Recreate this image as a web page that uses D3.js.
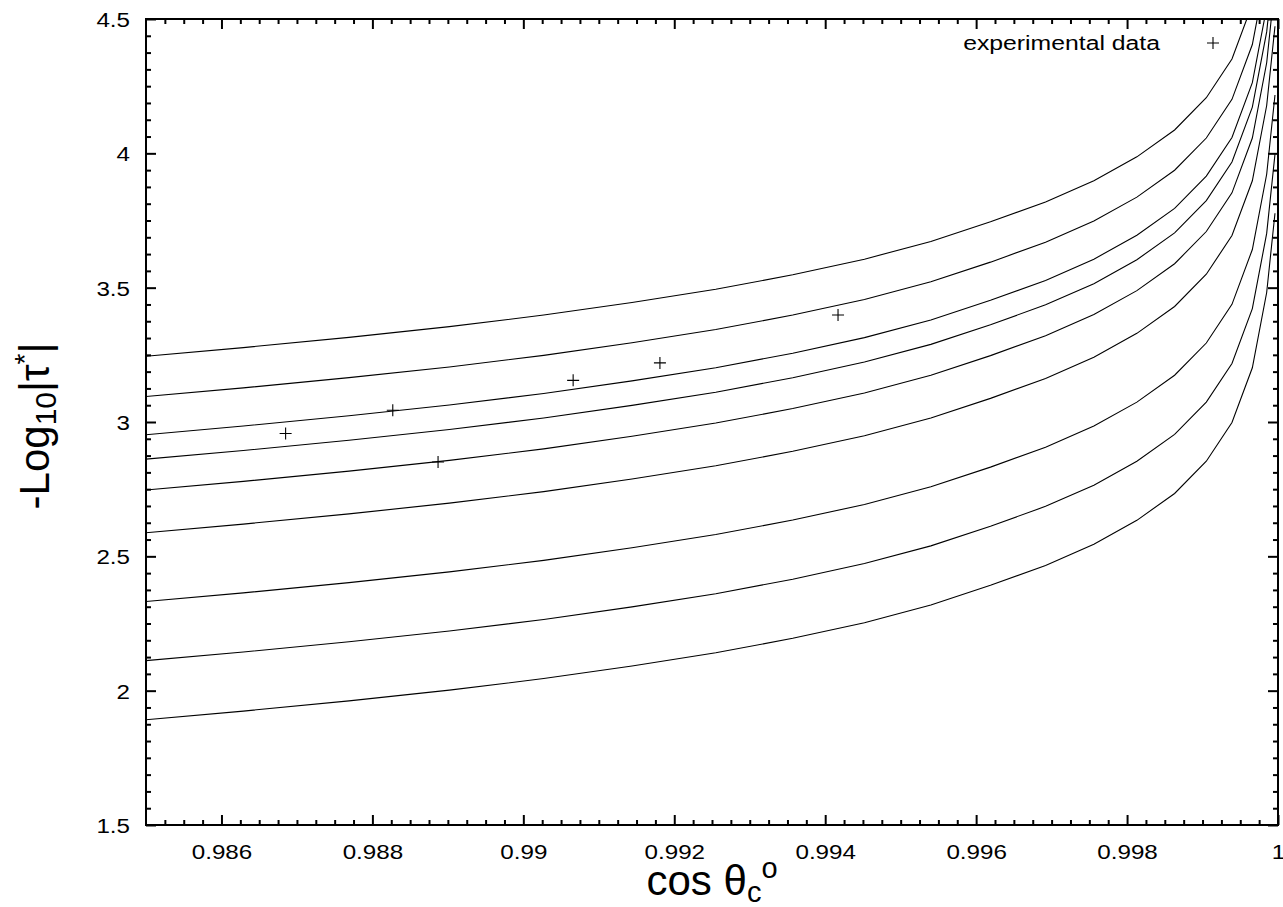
<!DOCTYPE html>
<html>
<head>
<meta charset="utf-8">
<script src="https://cdn.jsdelivr.net/npm/d3@7"></script>
<style>
  html, body { margin: 0; padding: 0; background: #fff; }
  svg { display: block; }
  text { font-family: "Liberation Sans", Arial, Helvetica, sans-serif; fill: #000; }
</style>
</head>
<body>
<svg id="chart" width="1283" height="907"></svg>
<script>
// ---- data ----
// sample positions of the model curves (cos θc), shared by all curves
const cosTheta = [0.98481, 0.98629, 0.98769, 0.98902, 0.99027, 0.99144, 0.99255, 0.99357, 0.99452, 0.99540,
                  0.99619, 0.99692, 0.99756, 0.99813, 0.99863, 0.99905, 0.99939, 0.99966, 0.99985, 0.99996];
const curve1 = [3.240, 3.277, 3.315, 3.355, 3.398, 3.445, 3.494, 3.548, 3.606, 3.672, 3.745, 3.819, 3.898, 3.987, 4.087, 4.207, 4.351, 4.555, 4.835, 5.130];
const curve2 = [3.090, 3.127, 3.165, 3.205, 3.248, 3.295, 3.344, 3.398, 3.456, 3.522, 3.595, 3.669, 3.748, 3.837, 3.937, 4.057, 4.201, 4.405, 4.685, 4.980];
const curve3 = [2.948, 2.985, 3.023, 3.063, 3.106, 3.153, 3.202, 3.256, 3.314, 3.380, 3.453, 3.527, 3.606, 3.695, 3.795, 3.915, 4.059, 4.263, 4.543, 4.838];
const curve4 = [2.857, 2.894, 2.932, 2.972, 3.015, 3.062, 3.111, 3.165, 3.223, 3.289, 3.362, 3.436, 3.515, 3.604, 3.704, 3.824, 3.968, 4.172, 4.452, 4.747];
const curve5 = [2.742, 2.779, 2.817, 2.857, 2.900, 2.947, 2.996, 3.050, 3.108, 3.174, 3.247, 3.321, 3.400, 3.489, 3.589, 3.709, 3.853, 4.057, 4.337, 4.632];
const curve6 = [2.583, 2.620, 2.658, 2.698, 2.741, 2.788, 2.837, 2.891, 2.949, 3.015, 3.088, 3.162, 3.241, 3.330, 3.430, 3.550, 3.694, 3.898, 4.178, 4.473];
const curve7 = [2.327, 2.364, 2.402, 2.442, 2.485, 2.532, 2.581, 2.635, 2.693, 2.759, 2.832, 2.906, 2.985, 3.074, 3.174, 3.294, 3.438, 3.642, 3.922, 4.217];
const curve8 = [2.107, 2.144, 2.182, 2.222, 2.265, 2.312, 2.361, 2.415, 2.473, 2.539, 2.612, 2.686, 2.765, 2.854, 2.954, 3.074, 3.218, 3.422, 3.702, 3.997];
const curve9 = [1.887, 1.924, 1.962, 2.002, 2.045, 2.092, 2.141, 2.195, 2.253, 2.319, 2.392, 2.466, 2.545, 2.634, 2.734, 2.854, 2.998, 3.202, 3.482, 3.777];
const curves = [curve1, curve2, curve3, curve4, curve5, curve6, curve7, curve8, curve9];

// experimental data
const expX = [0.98685, 0.98827, 0.98887, 0.99066, 0.99181, 0.99417];
const expY = [2.957, 3.044, 2.851, 3.155, 3.220, 3.398];
const legendLabel = "experimental data";

// axes
const xDomain = [0.985, 1.0];
const yDomain = [1.5, 4.5];
const xTicks = [0.986, 0.988, 0.99, 0.992, 0.994, 0.996, 0.998, 1.0];
const xTickLabels = ["0.986", "0.988", "0.99", "0.992", "0.994", "0.996", "0.998", "1"];
const yTicks = [1.5, 2, 2.5, 3, 3.5, 4, 4.5];
const yTickLabels = ["1.5", "2", "2.5", "3", "3.5", "4", "4.5"];
const xMinorStep = 0.00025;
const yMinorStep = 0.0625;

// ---- layout ----
const L = 146, R = 1278, T = 19, B = 825;
const svg = d3.select("#chart");
const x = d3.scaleLinear().domain(xDomain).range([L, R]);
const y = d3.scaleLinear().domain(yDomain).range([B, T]);
const SX = 1.18; // horizontal stretch of the reference tick lettering

svg.append("defs").append("clipPath").attr("id", "plotclip")
  .append("rect").attr("x", L).attr("y", T).attr("width", R - L).attr("height", B - T);

// minor tick values
const xMinor = d3.range(Math.round((xDomain[1] - xDomain[0]) / xMinorStep) + 1)
  .map(i => xDomain[0] + i * xMinorStep)
  .filter(v => !xTicks.some(t => Math.abs(t - v) < 1e-9) && v > xDomain[0] + 1e-9 && v < xDomain[1] - 1e-9);
const yMinor = d3.range(Math.round((yDomain[1] - yDomain[0]) / yMinorStep) + 1)
  .map(i => yDomain[0] + i * yMinorStep)
  .filter(v => !yTicks.some(t => Math.abs(t - v) < 1e-9) && v > yDomain[0] + 1e-9 && v < yDomain[1] - 1e-9);

function styleAxis(g) {
  g.select(".domain").remove();
  g.selectAll(".tick line").attr("stroke", "#000").attr("stroke-width", 2);
}

// bottom axis (major with labels)
const gB = svg.append("g").attr("transform", `translate(0,${B})`)
  .call(d3.axisBottom(x).tickValues(xTicks).tickSize(-10).tickFormat((d, i) => xTickLabels[i]));
styleAxis(gB);
gB.selectAll(".tick text").attr("y", 34).attr("dy", null)
  .attr("font-size", 20.5).attr("font-family", "Liberation Sans, Arial, sans-serif")
  .attr("fill", "#000").attr("transform", `scale(${SX},1)`);
svg.append("g").attr("transform", `translate(0,${B})`)
  .call(d3.axisBottom(x).tickValues(xMinor).tickSize(-5).tickFormat(""))
  .call(styleAxis);

// top axis (mirrored ticks)
svg.append("g").attr("transform", `translate(0,${T})`)
  .call(d3.axisTop(x).tickValues(xTicks).tickSize(-10).tickFormat(""))
  .call(styleAxis);
svg.append("g").attr("transform", `translate(0,${T})`)
  .call(d3.axisTop(x).tickValues(xMinor).tickSize(-5).tickFormat(""))
  .call(styleAxis);

// left axis
const gL = svg.append("g").attr("transform", `translate(${L},0)`)
  .call(d3.axisLeft(y).tickValues(yTicks).tickSize(-10).tickFormat((d, i) => yTickLabels[i]));
styleAxis(gL);
gL.selectAll(".tick text").attr("x", -16 / SX).attr("dy", "0.36em")
  .attr("font-size", 20.5).attr("font-family", "Liberation Sans, Arial, sans-serif")
  .attr("fill", "#000").attr("text-anchor", "end").attr("transform", `scale(${SX},1)`);
svg.append("g").attr("transform", `translate(${L},0)`)
  .call(d3.axisLeft(y).tickValues(yMinor).tickSize(-5).tickFormat(""))
  .call(styleAxis);

// right axis
svg.append("g").attr("transform", `translate(${R},0)`)
  .call(d3.axisRight(y).tickValues(yTicks).tickSize(-10).tickFormat(""))
  .call(styleAxis);
svg.append("g").attr("transform", `translate(${R},0)`)
  .call(d3.axisRight(y).tickValues(yMinor).tickSize(-5).tickFormat(""))
  .call(styleAxis);

// curves
const line = d3.line().x(d => x(d[0])).y(d => y(d[1]));
const plot = svg.append("g").attr("clip-path", "url(#plotclip)");
plot.selectAll("path.curve").data(curves).join("path")
  .attr("class", "curve")
  .attr("d", c => line(c.map((v, i) => [cosTheta[i], v])))
  .attr("fill", "none").attr("stroke", "#000").attr("stroke-width", 1.1);

// experimental points (plus markers)
const plusPath = "M-6,0H6M0,-6V6";
plot.selectAll("path.pt").data(expX.map((v, i) => [v, expY[i]])).join("path")
  .attr("class", "pt")
  .attr("transform", d => `translate(${x(d[0])},${y(d[1])})`)
  .attr("d", plusPath).attr("stroke", "#000").attr("stroke-width", 1.1).attr("fill", "none");

// legend
svg.append("text").attr("x", 1160 / SX).attr("y", 50).attr("text-anchor", "end")
  .attr("font-size", 21).attr("transform", `scale(${SX},1)`).text(legendLabel);
svg.append("path").attr("transform", "translate(1213,43)").attr("d", plusPath)
  .attr("stroke", "#000").attr("stroke-width", 1.1).attr("fill", "none");

// frame
svg.append("rect").attr("x", L).attr("y", T).attr("width", R - L).attr("height", B - T)
  .attr("fill", "none").attr("stroke", "#000").attr("stroke-width", 2);

// axis titles (centred on their axes)
const xt = svg.append("text").attr("x", (L + R) / 2).attr("y", 895).attr("text-anchor", "middle")
  .attr("font-size", 42);
xt.append("tspan").text("cos θ");
xt.append("tspan").attr("font-size", 29).attr("dy", 7).text("c");
xt.append("tspan").attr("font-size", 29).attr("dy", -24).text("o");

const yt = svg.append("text").attr("transform", `translate(49,${(T + B) / 2 + 4}) rotate(-90)`)
  .attr("text-anchor", "middle").attr("font-size", 42);
yt.append("tspan").text("-Log");
yt.append("tspan").attr("font-size", 30).attr("dy", 7).text("10");
yt.append("tspan").attr("dy", -7).text("|τ");
yt.append("tspan").attr("font-size", 28).attr("dy", -15).text("*");
yt.append("tspan").attr("dy", 15).text("|");
</script>
</body>
</html>
